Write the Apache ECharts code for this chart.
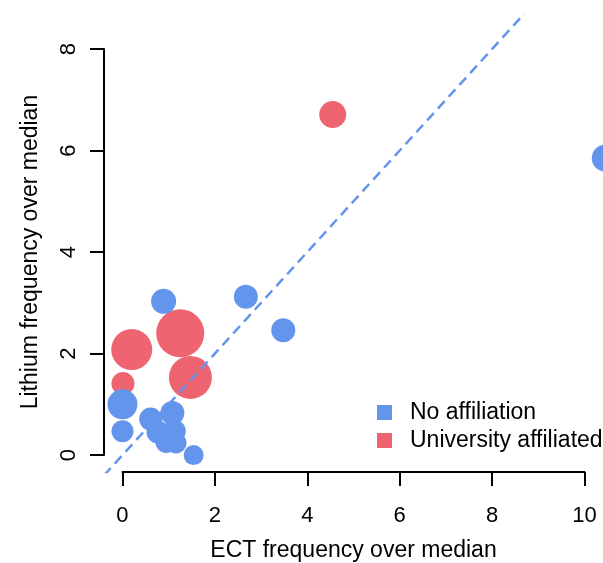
<!DOCTYPE html>
<html>
<head>
<meta charset="utf-8">
<script src="https://cdn.jsdelivr.net/npm/echarts@6/dist/echarts.min.js"></script>
<style>html,body{margin:0;padding:0;background:#fff}#c{width:603px;height:563px}</style>
</head>
<body>
<div id="c"></div>
<script>
// ---- data ----
const seriesNames = ['No affiliation', 'University affiliated'];
const noAffX    = [0.89, 2.67, 3.48, 10.45, 0.00, 0.00, 0.61, 1.08, 1.12, 0.95, 1.16, 0.77, 1.54];
const noAffY    = [3.03, 3.12, 2.46, 5.85, 1.00, 0.47, 0.71, 0.83, 0.47, 0.26, 0.24, 0.45, 0.00];
const noAffSize = [25, 24, 24, 27, 30, 22, 23, 24, 23, 22, 21, 23, 20];
const univX     = [4.55, 1.25, 0.20, 1.47, 0.01];
const univY     = [6.71, 2.40, 2.08, 1.53, 1.41];
const univSize  = [27, 48, 41, 43, 23];
const xTicks = [0, 2, 4, 6, 8, 10];
const yTicks = [0, 2, 4, 6, 8];
const identity = { slope: 1, intercept: 0 };
const xTitle = 'ECT frequency over median';
const yTitle = 'Lithium frequency over median';

// ---- layout ----
const xMin = -0.4, xMax = 10.4, yMin = -1/3, yMax = 26/3;
const BLUE = '#6495ED', RED = '#EE6571';
const FONT = '"Liberation Sans", Arial, sans-serif';
const gL = 104, gR = 603, gT = 15.2, gB = 472;
const pxX = v => gL + (v - xMin) / (xMax - xMin) * (gR - gL);
const pxY = v => gB - (v - yMin) / (yMax - yMin) * (gB - gT);

const toPts = (xs, ys, ss) => xs.map((x, i) => [x, ys[i], ss[i]]);
const diag = [xMin, xMax].map(x => [x, identity.slope * x + identity.intercept]);

const axisCommon = {
  axisLine: { show: true, lineStyle: { color: '#000', width: 2 } },
  axisTick: { show: true, inside: false, length: 14, lineStyle: { color: '#000', width: 2 } },
  splitLine: { show: false },
  nameTextStyle: { fontFamily: FONT, fontSize: 23, color: '#000' }
};

const chart = echarts.init(document.getElementById('c'), null, { renderer: 'canvas' });
chart.setOption({
  animation: false,
  backgroundColor: '#fff',
  grid: [
    { left: gL, top: gT, width: gR - gL, height: gB - gT, containLabel: false },
    { left: gL, top: pxY(yTicks[yTicks.length - 1]), width: 1,
      height: pxY(yTicks[0]) - pxY(yTicks[yTicks.length - 1]), containLabel: false },
    { left: pxX(xTicks[0]), top: gB - 1, width: pxX(xTicks[xTicks.length - 1]) - pxX(xTicks[0]),
      height: 1, containLabel: false }
  ],
  xAxis: [
    { gridIndex: 0, type: 'value', min: xMin, max: xMax, show: false },
    { gridIndex: 1, type: 'value', min: 0, max: 1, show: false },
    Object.assign({}, axisCommon, {
      gridIndex: 2, type: 'value', position: 'bottom',
      min: xTicks[0], max: xTicks[xTicks.length - 1], interval: 2,
      name: xTitle, nameLocation: 'middle', nameGap: 67,
      axisLabel: { show: true, margin: 33, fontFamily: FONT, fontSize: 22, color: '#000',
        formatter: v => String(v) }
    })
  ],
  yAxis: [
    { gridIndex: 0, type: 'value', min: yMin, max: yMax, show: false },
    Object.assign({}, axisCommon, {
      gridIndex: 1, type: 'value', position: 'left',
      min: yTicks[0], max: yTicks[yTicks.length - 1], interval: 2,
      name: yTitle, nameLocation: 'middle', nameGap: 62, nameRotate: 90,
      axisLabel: { show: true, rotate: 90, margin: 24, fontFamily: FONT, fontSize: 22, color: '#000',
        formatter: v => String(v) }
    }),
    { gridIndex: 2, type: 'value', min: 0, max: 1, show: false }
  ],
  legend: {
    orient: 'vertical', left: 372, top: 396,
    itemWidth: 15, itemHeight: 15, itemGap: 5, icon: 'rect',
    data: seriesNames,
    textStyle: { fontFamily: FONT, fontSize: 23, color: '#000', padding: [0, 0, 0, 13] }
  },
  series: [
    {
      name: seriesNames[1], type: 'scatter', xAxisIndex: 0, yAxisIndex: 0,
      data: toPts(univX, univY, univSize), symbol: 'circle',
      symbolSize: v => v[2], itemStyle: { color: RED, opacity: 1 }, clip: false, z: 2
    },
    {
      name: seriesNames[0], type: 'scatter', xAxisIndex: 0, yAxisIndex: 0,
      data: toPts(noAffX, noAffY, noAffSize), symbol: 'circle',
      symbolSize: v => v[2], itemStyle: { color: BLUE, opacity: 1 }, clip: false, z: 3
    },
    {
      name: 'identity', type: 'line', xAxisIndex: 0, yAxisIndex: 0,
      data: diag, showSymbol: false, clip: true, silent: true, z: 4,
      lineStyle: { color: BLUE, width: 2.5, type: [10, 6] }
    }
  ]
});
</script>
</body>
</html>
